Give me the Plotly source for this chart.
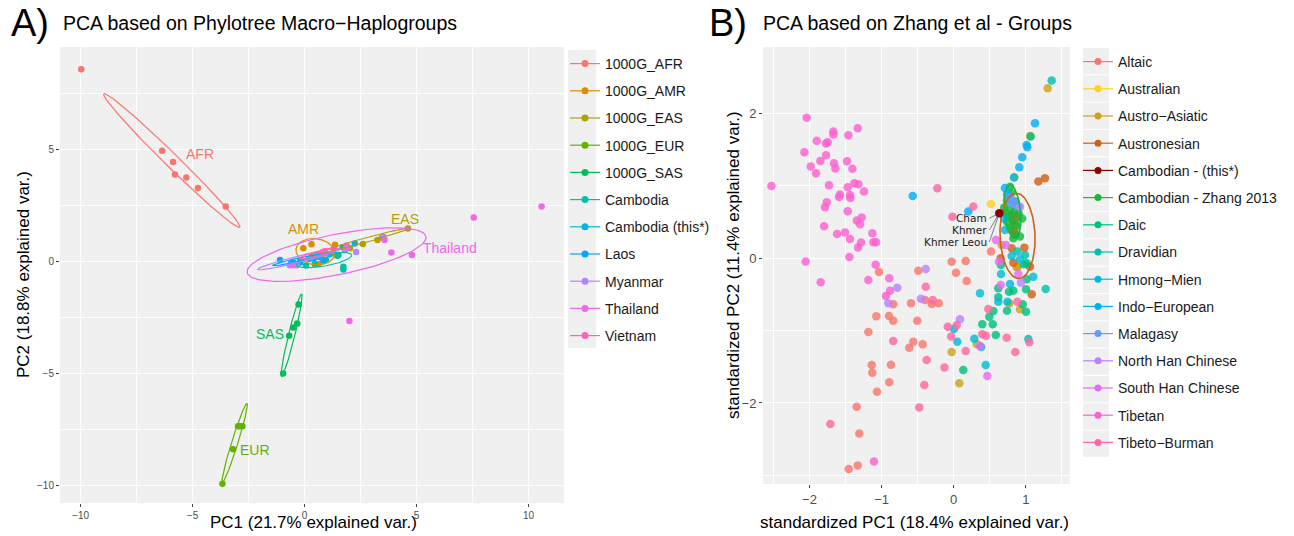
import numpy as np
import plotly.graph_objects as go

W, H = 1294, 536
OFF = 8  # page body margin of the html page
FONT = "Liberation Sans"

# ---------------- Panel A data ----------------
A_GROUPS = ["1000G_AFR", "1000G_AMR", "1000G_EAS", "1000G_EUR", "1000G_SAS", "Cambodia",
            "Cambodia (this*)", "Laos", "Myanmar", "Thailand", "Vietnam"]
A_COLORS = ["#F8766D", "#DB8E00", "#AEA200", "#64B200", "#00BD5C", "#00C1A7",
            "#00BADE", "#00A6FF", "#B385FF", "#EF67EB", "#FF63B6"]

AFR_PTS = [(-9.97, 8.56), (-6.36, 4.93), (-5.87, 4.43), (-5.79, 3.87), (-5.28, 3.74), (-4.76, 3.27), (-3.52, 2.44)]
AMR_PTS = [(-0.06, 0.58), (0.31, 0.76), (1.36, 0.74), (0.61, -0.13), (0.75, 0.15)]
EAS_PTS = [(4.61, 1.46), (3.45, 1.05), (3.25, 0.95), (2.60, 0.77), (2.03, 0.58), (1.20, 0.35)]
EUR_PTS = [(-2.78, -7.35), (-2.88, -7.35), (-2.97, -7.35), (-3.19, -8.38), (-3.67, -9.91)]
SAS_PTS = [(-0.27, -1.92), (-0.33, -2.77), (-0.51, -2.95), (-0.69, -3.32), (-0.96, -5.00)]
CAM_PTS = [(1.73, -0.24), (1.73, -0.36), (1.51, 0.28), (1.70, 0.63), (0.06, -0.19), (0.45, -0.12),
           (0.95, 0.06), (1.45, 0.25), (-0.20, -0.05)]
CAMT_PTS = [(0.20, 0.10), (-0.50, -0.05), (0.60, 0.20), (1.10, 0.30)]
LAOS_PTS = [(2.24, 0.79), (0.84, 0.03), (-1.10, 0.06), (-0.60, -0.08), (-0.20, 0.00), (0.40, 0.12)]
MYA_PTS = [(2.30, 0.42), (3.52, 1.10), (-0.66, -0.18), (-0.35, -0.18), (0.90, 0.35), (1.90, 0.60)]
THA_PTS = [(7.55, 1.95), (10.58, 2.44), (2.00, -2.66), (3.87, 0.39), (4.79, 0.28), (3.57, 0.95),
           (1.88, 0.70), (-0.50, -0.18), (0.80, 0.40), (1.80, 0.50)]
VIE_PTS = [(0.90, 0.45), (0.30, 0.20), (1.30, 0.55), (0.60, 0.30)]
A_PTS = [AFR_PTS, AMR_PTS, EAS_PTS, EUR_PTS, SAS_PTS, CAM_PTS, CAMT_PTS, LAOS_PTS, MYA_PTS, THA_PTS, VIE_PTS]

# ellipses (group, centre x, centre y, semi-major, semi-minor, angle deg)
A_ELL_GROUP = ["1000G_AFR", "1000G_AMR", "1000G_EAS", "1000G_EUR", "1000G_SAS", "Cambodia",
               "Laos", "Myanmar", "Thailand", "Vietnam"]
A_ELL_CX = [-5.93, 0.48, 2.42, -3.12, -0.58, 0.87, -0.20, -0.25, 1.43, 0.60]
A_ELL_CY = [4.49, 0.43, 0.86, -8.09, -3.29, 0.06, 0.08, 0.10, 0.30, 0.35]
A_ELL_A = [4.25, 0.87, 2.30, 1.84, 1.89, 1.25, 1.25, 1.90, 4.07, 0.85]
A_ELL_B = [0.30, 0.58, 0.10, 0.14, 0.14, 0.27, 0.08, 0.14, 0.90, 0.10]
A_ELL_ANG = [-44.4, -8, 15.4, 72.6, 76.2, 10, 12, 14, 11.4, 15]

A_LABELS = ["AFR", "AMR", "EAS", "SAS", "EUR", "Thailand"]
A_LABEL_X = [-4.69, -0.06, 4.46, -1.55, -2.22, 6.51]
A_LABEL_Y = [4.78, 1.46, 1.88, -3.24, -8.39, 0.58]
A_LABEL_COL = ["#F8766D", "#DB8E00", "#AEA200", "#00BD5C", "#64B200", "#EF67EB"]

# ---------------- Panel B data ----------------
B_GROUPS = ["Altaic", "Australian", "Austro\u2212Asiatic", "Austronesian", "Cambodian - (this*)",
            "Cambodian - Zhang 2013", "Daic", "Dravidian", "Hmong\u2212Mien", "Indo\u2212European",
            "Malagasy", "North Han Chinese", "South Han Chinese", "Tibetan", "Tibeto\u2212Burman"]
B_COLORS = ["#F8766D", "#FFD21F", "#CDA21F", "#D2601A", "#8B0000", "#17B83A", "#00BF7D", "#00C0AF",
            "#00BCD8", "#00B0F6", "#619CFF", "#B983FF", "#E76BF3", "#FD61D1", "#FF67A4"]

ALTAIC = [(-1.036, -0.189), (-0.838, -0.636), (-1.073, -0.802), (-0.897, -0.798), (-0.838, -0.863),
          (-1.184, -1.019), (-0.491, -0.171), (-0.398, -0.577), (-0.305, -0.632), (-0.208, -0.622),
          (-0.592, -0.622), (-0.505, -0.863), (-0.560, -1.153), (-0.616, -1.236), (-0.430, -1.190),
          (-1.137, -1.476), (-0.870, -1.472), (-1.129, -1.582), (-0.893, -1.715), (-1.064, -1.845),
          (-1.345, -2.053), (-1.309, -2.421), (-1.331, -2.863), (-1.456, -2.914), (-0.028, -0.047),
          (0.166, -0.037), (0.032, -0.199), (0.180, -0.314), (0.517, 0.092)]
AUSTRALIAN = [(0.515, 0.749)]
AUSTRO_ASIATIC = [(1.304, 2.351), (1.060, 1.690), (0.840, 1.120), (0.666, 0.184), (0.874, -0.125),
                  (0.888, -0.116), (0.772, -0.622), (0.920, -0.705), (0.319, -1.185), (-0.028, -1.296),
                  (0.078, -1.729)]
AUSTRONESIAN = [(1.174, 1.060), (1.266, 1.106), (0.827, -0.061), (1.082, -0.498), (0.804, 0.138),
                (0.980, 0.147), (1.058, -0.116), (0.652, 0.000), (0.800, 0.600), (0.830, 0.530),
                (0.850, 0.460), (0.800, 0.390), (0.850, 0.350), (0.880, 0.560)]
CAMB_THIS = [(0.633, 0.622)]
CAMB_ZHANG = [(0.781, 0.990), (0.800, 0.900), (0.740, 0.800), (0.860, 0.780), (0.700, 0.700),
              (0.780, 0.680), (0.840, 0.640), (0.900, 0.620), (0.760, 0.580), (0.820, 0.520),
              (0.880, 0.450), (0.780, 0.420), (0.860, 0.330), (0.920, 0.300), (0.720, 0.620),
              (0.950, 0.550), (0.827, 0.277), (0.740, 0.500)]
DAIC = [(1.068, 1.682), (0.656, -0.093), (0.975, -0.083), (1.012, -0.290), (0.619, -0.415),
        (1.003, -0.429), (0.767, -0.462), (0.827, -0.448), (0.619, -0.539), (0.957, -0.636),
        (1.003, -0.738), (0.739, -0.724), (0.549, -0.729), (0.494, -0.807), (0.397, -0.913),
        (0.541, -0.913), (0.583, -1.061), (0.133, -1.545), (1.012, -0.069)]
DRAVIDIAN = [(1.359, 2.456), (0.883, 0.092), (0.989, 0.046), (1.276, -0.425), (1.035, -1.116)]
HMONG_MIEN = [(0.836, 1.115), (0.365, -0.484), (0.004, -0.978), (0.050, -1.153), (0.286, -1.112),
              (0.444, -1.476), (0.656, -0.217), (1.104, -0.254), (0.781, -0.355), (0.619, -0.600),
              (0.744, -0.600), (0.804, 0.032), (0.920, -0.014), (0.711, 0.391), (0.380, -1.225)]
INDO_EUROPEAN = [(1.128, 1.867), (1.012, 1.567), (1.021, 1.535), (0.951, 1.397), (0.910, 1.259),
                 (-0.569, 0.862), (0.203, 0.645), (0.710, 0.970), (0.700, 0.550), (0.740, 0.880)]
MALAGASY = [(0.820, 0.800), (0.860, 0.740), (0.900, 0.720), (0.800, 0.760), (0.760, 0.840)]
NORTH_HAN = [(-0.388, -0.148), (-0.782, -0.406), (-0.907, -0.622), (-0.454, -0.558), (0.087, -0.844),
             (0.933, -0.337), (0.920, 0.710)]
SOUTH_HAN = [(0.587, 0.253), (0.725, 0.184), (0.628, -0.047), (0.896, -0.217), (0.652, -0.369),
             (0.365, -1.213), (0.466, -1.628)]
TIBETAN = [(-2.039, 1.941), (-1.669, 1.752), (-1.331, 1.798), (-1.461, 1.701), (-1.669, 1.710),
           (-1.900, 1.623), (-1.771, 1.586), (-1.748, 1.604), (-2.071, 1.466), (-1.771, 1.425),
           (-1.849, 1.346), (-1.479, 1.342), (-1.660, 1.314), (-1.983, 1.268), (-1.641, 1.240),
           (-1.405, 1.236), (-1.909, 1.176), (-2.529, 1.000), (-1.729, 1.010), (-1.470, 0.982),
           (-1.378, 1.037), (-1.322, 1.024), (-1.244, 0.922), (-1.577, 0.881), (-1.590, 0.848),
           (-1.438, 0.876), (-1.433, 0.834), (-1.761, 0.775), (-1.785, 0.705), (-1.470, 0.650),
           (-1.276, 0.562), (-1.345, 0.521), (-1.299, 0.470), (-1.798, 0.443), (-1.618, 0.337),
           (-1.507, 0.355), (-1.128, 0.346), (-1.438, 0.267), (-1.285, 0.217), (-1.114, 0.221),
           (-1.077, 0.221), (-1.327, 0.148), (-1.447, 0.018), (-2.053, -0.046), (-1.845, -0.332),
           (-1.082, -0.088), (-1.184, -0.300), (-0.893, -0.277), (-0.883, -0.448), (-0.939, -0.521),
           (-1.105, -2.808)]
TIBETO_BURMAN = [(-0.388, -0.393), (-0.291, -0.577), (-0.838, -1.144), (-0.375, -1.407), (-0.082, -0.946),
                 (-0.035, -1.080), (-0.128, -1.510), (-0.408, -1.752), (-0.477, -2.061), (-1.711, -2.292),
                 (-0.227, 0.968), (0.272, 0.714), (-0.019, 0.575), (0.883, -0.600), (0.480, -0.701),
                 (0.042, -0.922), (0.397, -1.051), (0.448, -1.070), (0.735, -1.098), (0.855, -1.296),
                 (1.049, -1.162), (0.166, -1.282)]
B_PTS = [ALTAIC, AUSTRALIAN, AUSTRO_ASIATIC, AUSTRONESIAN, CAMB_THIS, CAMB_ZHANG, DAIC, DRAVIDIAN,
         HMONG_MIEN, INDO_EUROPEAN, MALAGASY, NORTH_HAN, SOUTH_HAN, TIBETAN, TIBETO_BURMAN]

B_ELL_GROUP = ["Cambodian - Zhang 2013", "Austronesian"]
B_ELL_CX = [0.815, 0.885]
B_ELL_CY = [0.645, 0.310]
B_ELL_A = [0.37, 0.59]
B_ELL_B = [0.11, 0.243]
B_ELL_ANG = [95.5, 92]

B_LABELS = ["Cham", "Khmer", "Khmer Leou"]
B_LABEL_X = [0.494, 0.494, 0.494]
B_LABEL_Y = [0.553, 0.391, 0.225]
B_LABEL_TARGET = (0.633, 0.622)


def ellipse(cx, cy, a, b, ang, n=120):
    t = np.linspace(0, 2 * np.pi, n)
    r = np.radians(ang)
    x = cx + a * np.cos(t) * np.cos(r) - b * np.sin(t) * np.sin(r)
    y = cy + a * np.cos(t) * np.sin(r) + b * np.sin(t) * np.cos(r)
    return x, y


def fx(px):
    return (px - OFF) / W


def fy(py):
    return 1 - (py - OFF) / H


fig = go.Figure()

# ---- panel A marks ----
for name, col, pts in zip(A_GROUPS, A_COLORS, A_PTS):
    xs, ys = zip(*pts)
    fig.add_trace(go.Scatter(x=xs, y=ys, mode="markers", xaxis="x", yaxis="y",
                             marker=dict(color=col, size=6.5), showlegend=False, hoverinfo="skip"))
for g, cx, cy, a, b, ang in zip(A_ELL_GROUP, A_ELL_CX, A_ELL_CY, A_ELL_A, A_ELL_B, A_ELL_ANG):
    ex, ey = ellipse(cx, cy, a, b, ang)
    col = A_COLORS[A_GROUPS.index(g)]
    fig.add_trace(go.Scatter(x=ex, y=ey, mode="lines", xaxis="x", yaxis="y",
                             line=dict(color=col, width=1.2), showlegend=False, hoverinfo="skip"))

# ---- panel B marks ----
for name, col, pts in zip(B_GROUPS, B_COLORS, B_PTS):
    if name == "Cambodian - (this*)":
        continue
    xs, ys = zip(*pts)
    fig.add_trace(go.Scatter(x=xs, y=ys, mode="markers", xaxis="x2", yaxis="y2",
                             marker=dict(color=col, size=8.5, opacity=0.82),
                             showlegend=False, hoverinfo="skip"))
for g, cx, cy, a, b, ang in zip(B_ELL_GROUP, B_ELL_CX, B_ELL_CY, B_ELL_A, B_ELL_B, B_ELL_ANG):
    ex, ey = ellipse(cx, cy, a, b, ang)
    col = B_COLORS[B_GROUPS.index(g)]
    fig.add_trace(go.Scatter(x=ex, y=ey, mode="lines", xaxis="x2", yaxis="y2",
                             line=dict(color=col, width=1.6), showlegend=False, hoverinfo="skip"))
xs, ys = zip(*CAMB_THIS)
fig.add_trace(go.Scatter(x=xs, y=ys, mode="markers", xaxis="x2", yaxis="y2",
                         marker=dict(color=B_COLORS[4], size=8.5), showlegend=False, hoverinfo="skip"))

# ---- legend entries ----
for name, col in zip(A_GROUPS, A_COLORS):
    fig.add_trace(go.Scatter(x=[None], y=[None], mode="lines+markers", name=name, legend="legend",
                             legendgroup=name, marker=dict(color=col, size=7),
                             line=dict(color=col, width=1.2), xaxis="x", yaxis="y"))
for name, col in zip(B_GROUPS, B_COLORS):
    fig.add_trace(go.Scatter(x=[None], y=[None], mode="lines+markers", name=name, legend="legend2",
                             legendgroup="b" + name, marker=dict(color=col, size=7),
                             line=dict(color=col, width=1.2), xaxis="x2", yaxis="y2"))

# ---- annotations ----
ann = []
for t, x, y, c in zip(A_LABELS, A_LABEL_X, A_LABEL_Y, A_LABEL_COL):
    ann.append(dict(text=t, x=x, y=y, xref="x", yref="y", showarrow=False,
                    font=dict(family=FONT, size=14, color=c)))
for t, x, y in zip(B_LABELS, B_LABEL_X, B_LABEL_Y):
    ann.append(dict(text=t, x=B_LABEL_TARGET[0], y=B_LABEL_TARGET[1], xref="x2", yref="y2",
                    ax=x, ay=y, axref="x2", ayref="y2", xanchor="right", yanchor="middle",
                    showarrow=True, arrowhead=0, arrowwidth=0.6, arrowcolor="#333333",
                    standoff=3, startstandoff=0,
                    font=dict(family="DejaVu Sans", size=10.5, color="#1a1a1a")))

for text, px, py, size, xa, ang in [
    ("A)", 9, 23, 38, "left", 0),
    ("PCA based on Phylotree Macro\u2212Haplogroups", 61, 23, 19.5, "left", 0),
    ("B)", 707, 23, 38, "left", 0),
    ("PCA based on Zhang et al - Groups", 761, 23, 19.5, "left", 0),
    ("PC1 (21.7% explained var.)", 313, 522, 17, "center", 0),
    ("PC2 (18.8% explained var.)", 23, 275, 17, "center", -90),
    ("standardized PC1 (18.4% explained var.)", 914, 522, 17, "center", 0),
    ("standardized PC2 (11.4% explained var.)", 733, 265, 17, "center", -90),
]:
    ann.append(dict(text=text, x=fx(px), y=fy(py), xref="paper", yref="paper", showarrow=False,
                    xanchor=xa, yanchor="middle", textangle=ang,
                    font=dict(family=FONT, size=size, color="#000000")))

# legend key backgrounds
shapes = [dict(type="rect", xref="paper", yref="paper", x0=fx(568), x1=fx(596), y0=fy(348), y1=fy(50),
               fillcolor="#F0F0F0", line=dict(width=0), layer="below")]
for i in range(len(B_GROUPS)):
    top = 48 + i * 27.33
    shapes.append(dict(type="rect", xref="paper", yref="paper", x0=fx(1083), x1=fx(1109),
                       y0=fy(top + 26.3), y1=fy(top),
                       fillcolor="#F0F0F0", line=dict(width=0), layer="below"))

grid = dict(showgrid=True, gridcolor="white", gridwidth=1.2, zeroline=False, showline=False,
            ticks="outside", ticklen=3, tickcolor="#444444", tickwidth=1, automargin=False)

fig.update_layout(
    width=W, height=H, margin=dict(l=0, r=0, t=0, b=0, autoexpand=False),
    paper_bgcolor="white", plot_bgcolor="#F0F0F0",
    font=dict(family=FONT),
    xaxis=dict(domain=[fx(60), fx(564)], range=[-10.92, 11.58], anchor="y", tick0=0, dtick=5,
               tickfont=dict(size=10, color="#4D4D4D"),
               minor=dict(dtick=2.5, tick0=0, showgrid=True, gridcolor="white", gridwidth=0.6, ticks=""),
               **grid),
    yaxis=dict(domain=[fy(503), fy(47)], range=[-10.77, 9.55], anchor="x", tick0=0, dtick=5,
               tickfont=dict(size=10, color="#4D4D4D"),
               minor=dict(dtick=2.5, tick0=0, showgrid=True, gridcolor="white", gridwidth=0.6, ticks=""),
               **grid),
    xaxis2=dict(domain=[fx(763), fx(1070)], range=[-2.645, 1.613], anchor="y2", tick0=0, dtick=1,
                tickfont=dict(size=13, color="#4D4D4D"),
                minor=dict(dtick=0.5, tick0=0, showgrid=True, gridcolor="white", gridwidth=0.6, ticks=""),
                **grid),
    yaxis2=dict(domain=[fy(484), fy(47)], range=[-3.12, 2.92], anchor="x2", tick0=0, dtick=2,
                tickfont=dict(size=13, color="#4D4D4D"),
                minor=dict(dtick=1, tick0=0, showgrid=True, gridcolor="white", gridwidth=0.6, ticks=""),
                **grid),
    legend=dict(x=fx(565), y=fy(48), xanchor="left", yanchor="top", bgcolor="rgba(0,0,0,0)",
                font=dict(family=FONT, size=14, color="#1a1a1a"), tracegroupgap=6,
                traceorder="grouped", itemwidth=30),
    legend2=dict(x=fx(1078), y=fy(46), xanchor="left", yanchor="top", bgcolor="rgba(0,0,0,0)",
                 font=dict(family=FONT, size=14, color="#1a1a1a"), tracegroupgap=6,
                 traceorder="grouped", itemwidth=30),
    annotations=ann, shapes=shapes,
)

fig.write_html("out.html")
